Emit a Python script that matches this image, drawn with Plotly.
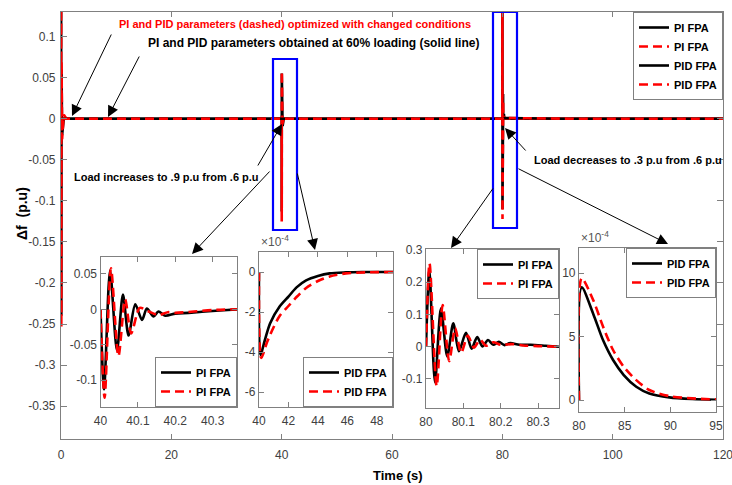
import plotly.graph_objects as go

# ---------------- data ----------------
# initial transient of the main run (time s, delta f p.u)
init_t = [0, 0.02, 0.06, 0.1, 0.2, 0.5, 1.0]
init_pi_black = [0, 0.20, -0.24, 0.06, -0.02, 0.0, 0.0]
init_pi_red = [0, 0.22, -0.254, 0.07, -0.025, 0.005, 0.0]

# PI response after load increase at 40 s (time offset from 40 s)
pi40_dt_black = [0, 0.0095, 0.0255, 0.044, 0.060, 0.075, 0.093, 0.111, 0.124, 0.142,
                 0.155, 0.173, 0.20, 0.235, 0.28, 0.34, 0.365]
pi40_black = [0, -0.113, 0.055, -0.058, 0.021, -0.037, 0.007, -0.015, 0.001, -0.010,
              -0.003, -0.009, -0.006, -0.005, -0.003, -0.001, 0]
pi40_dt_red = [0, 0.011, 0.028, 0.048, 0.066, 0.082, 0.105, 0.125, 0.155, 0.18,
               0.20, 0.25, 0.30, 0.365]
pi40_red = [0, -0.125, 0.058, -0.066, 0.014, -0.034, 0.002, -0.002, -0.008, -0.004,
            -0.005, -0.003, -0.001, 0]

# PI response after load decrease at 80 s (time offset from 80 s)
pi80_dt_black = [0, 0.009, 0.024, 0.040, 0.057, 0.073, 0.088, 0.107, 0.122, 0.137,
                 0.151, 0.166, 0.18, 0.195, 0.21, 0.225, 0.25, 0.28, 0.32, 0.356]
pi80_black = [0, 0.237, -0.110, 0.119, -0.030, 0.073, -0.014, 0.043, -0.006, 0.030,
              0.001, 0.021, 0.006, 0.015, 0.005, 0.011, 0.006, 0.006, 0.003, 0.0]
pi80_dt_red = [0, 0.0095, 0.0285, 0.0445, 0.062, 0.078, 0.094, 0.112, 0.128, 0.145,
               0.16, 0.18, 0.20, 0.23, 0.26, 0.30, 0.356]
pi80_red = [0, 0.258, -0.122, 0.129, -0.045, 0.058, -0.019, 0.035, -0.003, 0.022,
            0.003, 0.014, 0.006, 0.008, 0.004, 0.002, 0.0]

# PID response at 40 s (x 1e-4 p.u)
pid40_t_black = [40, 40.1, 40.4, 40.75, 41.4, 42.0, 42.55, 43.2, 44.0, 44.8, 45.9, 47.0, 49.1]
pid40_black = [0, -4.15, -3.4, -2.57, -1.73, -1.23, -0.77, -0.42, -0.2, -0.07, -0.02, 0, 0]
pid40_t_red = [40, 40.15, 40.55, 41.0, 41.4, 42.0, 42.55, 43.2, 44.0, 44.8, 45.9, 47.2, 49.1]
pid40_red = [0, -4.3, -3.5, -2.75, -2.2, -1.7, -1.25, -0.8, -0.45, -0.22, -0.07, -0.02, 0]

# PID response at 80 s (x 1e-4 p.u)
pid80_t = [80, 80.3, 81.55, 82.64, 83.73, 84.9, 86.27, 87.7, 89.9, 92.4, 95]
pid80_black = [0, 8.87, 6.8, 4.7, 3.15, 1.97, 1.05, 0.52, 0.21, 0.08, 0.02]
pid80_red = [0, 9.58, 7.87, 5.77, 3.94, 2.62, 1.57, 0.79, 0.31, 0.13, 0.05]

# tick labels
main_xticks = [0, 20, 40, 60, 80, 100, 120]
main_yticks = [0.1, 0.05, 0, -0.05, -0.1, -0.15, -0.2, -0.25, -0.3, -0.35]
main_yticklabels = ["0.1", "0.05", "0", "-0.05", "-0.1", "-0.15", "-0.2", "-0.25", "-0.3", "-0.35"]
in1_xticks = [40, 40.1, 40.2, 40.3]
in1_yticks = [0.05, 0, -0.05, -0.1]
in1_yticklabels = ["0.05", "0", "-0.05", "-0.1"]
in2_xticks = [40, 42, 44, 46, 48]
in2_yticks = [0, -2, -4, -6]
in2_yticklabels = ["0", "-2", "-4", "-6"]
in3_xticks = [80, 80.1, 80.2, 80.3]
in3_yticks = [0.3, 0.2, 0.1, 0, -0.1]
in3_yticklabels = ["0.3", "0.2", "0.1", "0", "-0.1"]
in4_xticks = [80, 85, 90, 95]
in4_yticks = [0, 5, 10]

# ---------------- geometry helpers ----------------
W, H = 732, 485
L, R, T, B = 61, 9, 12, 46
PW, PH = W - L - R, H - T - B
XR = [0, 120]
YR = [-0.39, 0.13]


def px(x):
    return (x - L) / PW


def py(y):
    return (H - B - y) / PH


def mx(x):
    return XR[0] + (x - L) / PW * (XR[1] - XR[0])


def my(y):
    return YR[1] - (y - T) / PH * (YR[1] - YR[0])


# main series assembled from the pieces
main_t_black = init_t + [40 + d for d in pi40_dt_black] + [80 + d for d in pi80_dt_black] + [120]
main_pi_black = init_pi_black + pi40_black + pi80_black + [0]
main_t_red = init_t + [40 + d for d in pi40_dt_red] + [80 + d for d in pi80_dt_red] + [120]
main_pi_red = init_pi_red + pi40_red + pi80_red + [0]
main_t_pidb = [0] + pid40_t_black + pid80_t + [120]
main_pid_black = [0] + [v * 1e-4 for v in pid40_black] + [v * 1e-4 for v in pid80_black] + [0]
main_t_pidr = [0] + pid40_t_red + pid80_t + [120]
main_pid_red = [0] + [v * 1e-4 for v in pid40_red] + [v * 1e-4 for v in pid80_red] + [0]

BLACK = "black"
RED = "#ff0000"
DASH = "9px,5px"
LW = 2.6

fig = go.Figure()


def add_pair(xb, yb, xr, yr, nm, xa, ya, leg, shape="linear"):
    fig.add_trace(go.Scatter(x=xb, y=yb, mode="lines", name=nm, legend=leg,
                             line=dict(color=BLACK, width=LW, shape=shape, smoothing=0.8),
                             xaxis=xa, yaxis=ya))
    fig.add_trace(go.Scatter(x=xr, y=yr, mode="lines", name=nm, legend=leg,
                             line=dict(color=RED, width=LW, dash=DASH, shape=shape, smoothing=0.8),
                             xaxis=xa, yaxis=ya))


# main plot
add_pair(main_t_black, main_pi_black, main_t_red, main_pi_red, "PI FPA", "x", "y", "legend")
add_pair(main_t_pidb, main_pid_black, main_t_pidr, main_pid_red, "PID FPA", "x", "y", "legend")
# insets
add_pair([40 + d for d in pi40_dt_black], pi40_black, [40 + d for d in pi40_dt_red], pi40_red,
         "PI FPA", "x2", "y2", "legend2", "spline")
add_pair(pid40_t_black, pid40_black, pid40_t_red, pid40_red, "PID FPA", "x3", "y3", "legend3", "spline")
add_pair([80 + d for d in pi80_dt_black], pi80_black, [80 + d for d in pi80_dt_red], pi80_red,
         "PI FPA", "x4", "y4", "legend4", "spline")
add_pair(pid80_t, pid80_black, pid80_t, pid80_red, "PID FPA", "x5", "y5", "legend5", "spline")

TICKFONT = dict(family="Liberation Sans, Arial, sans-serif", size=12, color="#404040")
LINEC = "#808080"


def axstyle(**kw):
    d = dict(showline=True, linecolor=LINEC, linewidth=1.2, mirror="ticks", ticks="inside",
             ticklen=5, tickcolor=LINEC, tickwidth=1, showgrid=False, zeroline=False,
             tickfont=TICKFONT, automargin=False, ticklabeloverflow="allow")
    d.update(kw)
    return d


insets = [
    # (x_left, x_right, y_top, y_bottom) in pixels
    (100.5, 237, 257, 407),
    (259, 393, 252, 407),
    (426, 559, 249, 408),
    (579, 716, 248, 412),
]

layout = dict(
    template="none",
    width=W, height=H,
    margin=dict(l=L, r=R, t=T, b=B, pad=0, autoexpand=False),
    paper_bgcolor="white", plot_bgcolor="white",
    showlegend=True,
    xaxis=axstyle(domain=[0, 1], range=XR, tickvals=main_xticks, anchor="y", ticklabelstandoff=4),
    yaxis=axstyle(domain=[0, 1], range=YR, tickvals=main_yticks, ticktext=main_yticklabels,
                  anchor="x", ticklen=6, ticklabelstandoff=2),
)

xranges = [[40, 40.365], [40, 49.1], [80, 80.356], [80, 95]]
yranges = [[-0.138, 0.074], [-6.75, 1.0], [-0.19, 0.303], [-0.94, 11.97]]
xtv = [in1_xticks, in2_xticks, in3_xticks, in4_xticks]
ytv = [in1_yticks, in2_yticks, in3_yticks, in4_yticks]
ytt = [in1_yticklabels, in2_yticklabels, in3_yticklabels, [str(v) for v in in4_yticks]]
xtt = [[f"{v:g}" for v in t] for t in xtv]
for i, (xl, xr_, yt, yb) in enumerate(insets):
    n = i + 2
    layout[f"xaxis{n}"] = axstyle(domain=[px(xl), px(xr_)], range=xranges[i], tickvals=xtv[i],
                                  ticktext=xtt[i], anchor=f"y{n}", ticklabelstandoff=2)
    layout[f"yaxis{n}"] = axstyle(domain=[py(yb), py(yt)], range=yranges[i], tickvals=ytv[i],
                                  ticktext=ytt[i], anchor=f"x{n}")

LEGFONT = dict(family="Liberation Sans, Arial, sans-serif", size=11, color="black", weight="bold")


def legstyle(x, y, xa, ya):
    return dict(x=x, y=y, xanchor=xa, yanchor=ya, bgcolor="white", bordercolor=LINEC,
                borderwidth=1, font=LEGFONT, tracegroupgap=0)


layout["legend"] = legstyle(1.0, 1.0, "right", "top")
layout["legend2"] = legstyle(px(237), py(407), "right", "bottom")
layout["legend3"] = legstyle(px(393), py(407), "right", "bottom")
layout["legend4"] = legstyle(px(559), py(249), "right", "top")
layout["legend5"] = legstyle(px(716), py(248), "right", "top")

fig.update_layout(**layout)

# blue highlight boxes around the disturbances
for (x0, x1, y0, y1) in [(273, 297, 59, 230), (493, 517, 12, 228)]:
    fig.add_shape(type="rect", xref="x", yref="y", x0=mx(x0), x1=mx(x1), y0=my(y1), y1=my(y0),
                  line=dict(color="#0000ff", width=2.2), fillcolor="rgba(0,0,0,0)")

ANNFONT = dict(family="Liberation Sans, Arial, sans-serif", weight="bold")
texts = [
    ("PI and PID parameters (dashed) optimized with changed conditions", 117, 24, RED, 11),
    ("PI and PID parameters obtained at 60% loading (solid line)", 146, 43, BLACK, 12),
    ("Load increases to .9 p.u from .6 p.u", 72, 177, BLACK, 11),
    ("Load decreases to .3 p.u from .6 p.u", 532, 160, BLACK, 11),
]
for txt, x, y, c, s in texts:
    fig.add_annotation(text=txt, xref="paper", yref="paper", x=px(x), y=py(y),
                       xanchor="left", yanchor="middle", showarrow=False,
                       font=dict(ANNFONT, color=c, size=s))

arrows = [((112, 33), (72, 116)), ((140, 55), (108, 117)), ((257, 167), (282, 124)),
          ((271, 170), (192, 254)), ((297, 172), (315, 250)), ((527, 152), (505, 128)),
          ((494, 187), (451, 248)), ((517, 168), (668, 244))]
for (tx, ty), (hx, hy) in arrows:
    fig.add_annotation(text="", x=mx(hx), y=my(hy), ax=mx(tx), ay=my(ty),
                       xref="x", yref="y", axref="x", ayref="y", showarrow=True,
                       arrowhead=2, arrowsize=2.2, arrowwidth=1, arrowcolor="black")

# exponent labels of the PID insets
for (x, y) in [(259, 251), (579, 247)]:
    fig.add_annotation(text="×10<sup>-4</sup>", xref="paper", yref="paper", x=px(x), y=py(y),
                       xanchor="left", yanchor="bottom", showarrow=False,
                       font=dict(family="Liberation Sans, Arial, sans-serif", size=12, color="#555555"))

# axis titles
fig.add_annotation(text="Time (s)", xref="paper", yref="paper", x=px(398), y=py(475),
                   xanchor="center", yanchor="middle", showarrow=False,
                   font=dict(family="Liberation Sans, Arial, sans-serif", size=13, weight="bold",
                             color="black"))
fig.add_annotation(text="Δf  (p.u)", xref="paper", yref="paper", x=px(22), y=py(214),
                   xanchor="center", yanchor="middle", showarrow=False, textangle=-90,
                   font=dict(family="Liberation Sans, Arial, sans-serif", size=14, weight="bold",
                             color="black"))

fig.write_html("out.html")
